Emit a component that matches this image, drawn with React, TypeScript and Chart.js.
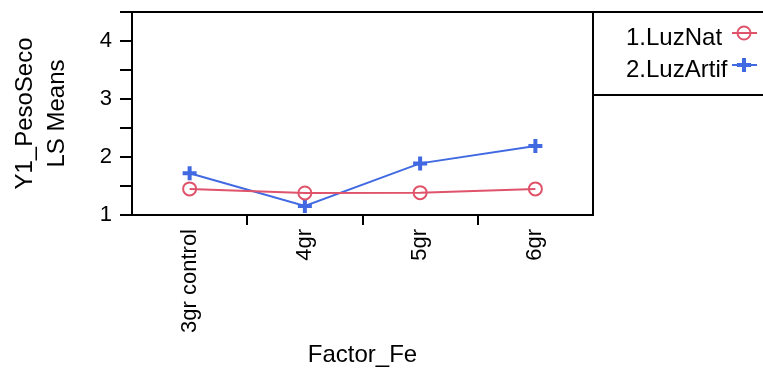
import React, { useEffect, useRef } from "react";
import { Chart, registerables } from "chart.js";

Chart.register(...registerables);

const categories = ["3gr control", "4gr", "5gr", "6gr"];
const luzNat = [1.45, 1.38, 1.385, 1.45];
const luzArtif = [1.72, 1.155, 1.89, 2.19];
const seriesLabels = ["1.LuzNat", "2.LuzArtif"];
const yMin = 1;
const yMax = 4.5;
const yStep = 0.5;
const yTitle = ["Y1_PesoSeco", "LS Means"];
const xTitle = "Factor_Fe";

const RED = "#DF536B";
const BLUE = "#4169E1";
const FONT = "'Liberation Sans', Arial, sans-serif";

const framePlugin = {
  id: "frameAndLegend",
  afterDraw(chart: any) {
    const ctx = chart.ctx;
    const { top, bottom, right } = chart.chartArea;
    const W = chart.width;
    ctx.save();
    ctx.strokeStyle = "#000";
    ctx.lineWidth = 2;
    ctx.beginPath();
    ctx.moveTo(chart.chartArea.left, top);
    ctx.lineTo(W, top);
    ctx.moveTo(right, top);
    ctx.lineTo(right, bottom);
    ctx.moveTo(right, top + 83);
    ctx.lineTo(W, top + 83);
    ctx.stroke();

    ctx.font = `24px ${FONT}`;
    ctx.fillStyle = "#000";
    ctx.textAlign = "left";
    ctx.textBaseline = "middle";
    chart.data.datasets.forEach((ds: any, i: number) => {
      const ty = top + 26 + i * 32;
      ctx.fillText(ds.label, right + 33, ty);
      const sy = top + 21 + i * 32;
      ctx.strokeStyle = ds.borderColor;
      ctx.lineWidth = 2;
      ctx.beginPath();
      ctx.moveTo(right + 139, sy);
      ctx.lineTo(right + 164, sy);
      ctx.stroke();
      if (ds.pointStyle === "circle") {
        ctx.beginPath();
        ctx.arc(right + 151, sy, 6.5, 0, Math.PI * 2);
        ctx.stroke();
      } else {
        ctx.lineWidth = 4;
        ctx.beginPath();
        ctx.moveTo(right + 144, sy);
        ctx.lineTo(right + 158, sy);
        ctx.moveTo(right + 151, sy - 7);
        ctx.lineTo(right + 151, sy + 7);
        ctx.stroke();
      }
    });
    ctx.restore();
  },
};

export default function App() {
  const ref = useRef<HTMLCanvasElement | null>(null);
  useEffect(() => {
    if (!ref.current) return;
    const chart = new Chart(ref.current, {
      type: "line",
      data: {
        labels: categories,
        datasets: [
          {
            label: seriesLabels[0],
            data: luzNat,
            borderColor: RED,
            backgroundColor: "transparent",
            borderWidth: 2,
            pointStyle: "circle",
            pointRadius: 6.5,
            pointBorderWidth: 2,
            pointBackgroundColor: "transparent",
            pointBorderColor: RED,
          },
          {
            label: seriesLabels[1],
            data: luzArtif,
            borderColor: BLUE,
            backgroundColor: "transparent",
            borderWidth: 2,
            pointStyle: "cross",
            pointRadius: 7,
            pointBorderWidth: 4,
            pointBorderColor: BLUE,
          },
        ],
      },
      options: {
        responsive: false,
        animation: false,
        layout: { padding: { top: 12, right: 170, left: 0, bottom: 0 } },
        plugins: {
          legend: { display: false },
          tooltip: { enabled: false },
        },
        scales: {
          x: {
            type: "category",
            offset: true,
            afterFit(scale: any) {
              scale.height = 155;
              scale.paddingLeft = 0;
              scale.paddingRight = 0;
            },
            grid: {
              offset: true,
              drawOnChartArea: false,
              tickLength: 10,
              lineWidth: 2,
              tickWidth: 2,
              tickColor: (c: any) =>
                c.type === "tick" && c.index > 0 ? "#000" : "rgba(0,0,0,0)",
              color: "#000",
            },
            border: { display: true, color: "#000", width: 2 },
            ticks: {
              minRotation: 90,
              maxRotation: 90,
              autoSkip: false,
              padding: 4,
              color: "#000",
              font: { family: FONT, size: 22 },
            },
            title: {
              display: true,
              text: xTitle,
              color: "#000",
              font: { family: FONT, size: 24 },
              padding: { top: 0, bottom: 0 },
            },
          },
          y: {
            type: "linear",
            min: yMin,
            max: yMax,
            afterFit(scale: any) {
              scale.width = 132;
              scale.paddingTop = 0;
              scale.paddingBottom = 0;
            },
            grid: {
              drawOnChartArea: false,
              tickLength: 12,
              lineWidth: 2,
              tickWidth: 2,
              tickColor: "#000",
              color: "#000",
            },
            border: { display: true, color: "#000", width: 2 },
            ticks: {
              stepSize: yStep,
              padding: 8,
              color: "#000",
              font: { family: FONT, size: 22, lineHeight: 1 },
              callback: (v: any) => (Number(v) % 1 === 0 ? String(v) : ""),
            },
            title: {
              display: true,
              text: yTitle,
              color: "#000",
              font: { family: FONT, size: 24, lineHeight: 1.33 },
              padding: { top: 9, bottom: 0 },
            },
          },
        },
      },
      plugins: [framePlugin],
    });
    return () => chart.destroy();
  }, []);
  return (
    <div style={{ position: "absolute", left: 0, top: 0, width: 763, height: 370, background: "#fff" }}>
      <canvas ref={ref} width={763} height={370} style={{ width: 763, height: 370 }} />
    </div>
  );
}
